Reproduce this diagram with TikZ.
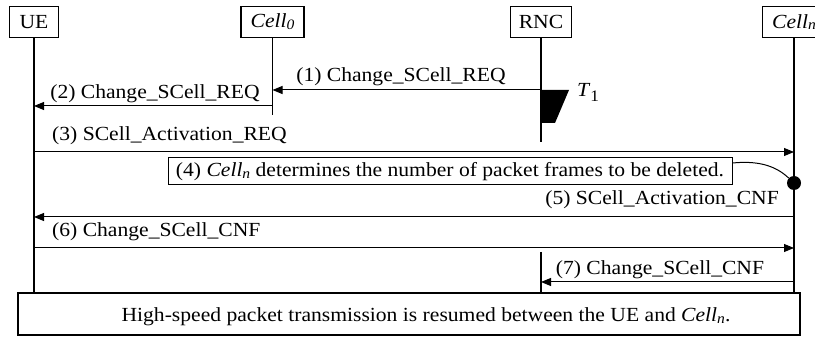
\documentclass[tikz,border=0pt]{standalone}
\usepackage{fontspec}
\usepackage{graphicx}
\setmainfont{Liberation Serif}[FakeStretch=1.08]
\usetikzlibrary{arrows.meta}

% small, slightly lowered index as in "Cell_0"
\newcommand\idx[1]{\raisebox{-0.2ex}{\scalebox{0.72}{#1}}}

\tikzset{
  base/.style={font=\fontsize{20}{23}\selectfont},
  actor/.style={base, draw, line width=1.6pt, fill=white, minimum height=31pt, inner sep=2pt},
  life/.style={line width=1.7pt},
  msg/.style={line width=1pt, -{Triangle[length=10pt,width=8pt]}},
  lbl/.style={base, inner sep=0pt},
  notebox/.style={base, draw, line width=1pt, minimum width=564pt, minimum height=27pt, inner sep=2pt},
}

\begin{document}
\begin{tikzpicture}[x=1pt,y=-1pt]
\useasboundingbox (0,0) rectangle (815,339);
\clip (0,0) rectangle (815,339);

% participants
\node[actor, minimum width=49pt] (ue)  at (34,22)    {UE};
\node[actor, minimum width=63pt] (c0)  at (272.5,22) {\textit{Cell\idx{0}}};
\node[actor, minimum width=61pt] (rnc) at (541,22)   {RNC};
\node[actor, minimum width=63pt] (cn)  at (794,22)   {\textit{Cell\idx{n}}};

% lifeline ends
\coordinate (ueB)  at (34,293);
\coordinate (c0B)  at (272.5,115);
\coordinate (rncB) at (541,142);
\coordinate (rncT) at (541,252);
\coordinate (rncE) at (541,293);
\coordinate (cnB)  at (794,293);

\draw[life] (ue.south)  -- (ueB);
\draw[life] (c0.south)  -- (c0B);
\draw[life] (rnc.south) -- (rncB);
\draw[life] (rncT) -- (rncE);
\draw[life] (cn.south)  -- (cnB);

% timer T1
\fill (rnc |- 0,90) -- (569,90) -- (555,123) -- (rnc |- 0,123) -- cycle;
\node[lbl, anchor=base west] (t1) at (577,97) {\textit{T}\raisebox{-0.45ex}{\scalebox{0.8}{1}}};

% messages
\draw[msg] (rnc |- 0,90) -- (c0 |- 0,90);
\node[lbl, anchor=base] (m1) at (401,82) {(1) Change\_SCell\_REQ};
\draw[msg] (c0 |- 0,106) -- (ue |- 0,106);
\node[lbl, anchor=base] (m2) at (155,99) {(2) Change\_SCell\_REQ};
\draw[msg] (ue |- 0,152) -- (cn |- 0,152);
\node[lbl, anchor=base west] (m3) at (52,141) {(3) SCell\_Activation\_REQ};

\node[notebox] (n4) at (450,171.5) {(4) \textit{Cell\idx{n}} determines the number of packet frames to be deleted.};
\node[circle, fill, inner sep=0pt, minimum size=14pt] (dot) at (794,183) {};
\draw[line width=1pt] (n4.east |- 0,163) .. controls (762,160) and (778,168) .. (dot);

\draw[msg] (cn |- 0,217) -- (ue |- 0,217);
\node[lbl, anchor=base east] (m5) at (779,205) {(5) SCell\_Activation\_CNF};
\draw[msg] (ue |- 0,248) -- (cn |- 0,248);
\node[lbl, anchor=base west] (m6) at (52,237) {(6) Change\_SCell\_CNF};
\draw[msg] (cn |- 0,282) -- (rncT |- 0,282);
\node[lbl, anchor=base] (m7) at (660,275) {(7) Change\_SCell\_CNF};

% final state
\node[draw, line width=1.6pt, fill=white, minimum width=782pt, minimum height=42pt] (fin) at (409,314) {};
\node[lbl, anchor=base] (fint) at (426,322)
  {High-speed packet transmission is resumed between the UE and \textit{Cell\idx{n}}.};
\end{tikzpicture}
\end{document}
